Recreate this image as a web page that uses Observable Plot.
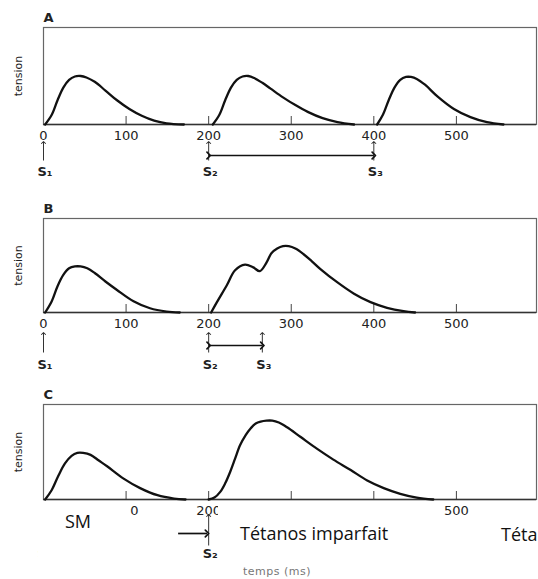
<!DOCTYPE html>
<html><head><meta charset="utf-8">
<script src="https://cdn.jsdelivr.net/npm/d3@7"></script>
<script src="https://cdn.jsdelivr.net/npm/@observablehq/plot@0.6"></script>
<style>
body{margin:0;background:#fff;}
#wrap{position:relative;width:538px;height:579px;overflow:hidden;background:#fff;}
#wrap > svg{position:absolute;left:0;}
</style></head><body><div id="wrap"></div>
<script>
// x-axis ticks (ms)
const ticks = [0, 100, 200, 300, 400, 500];
const tickLabels = ["0", "100", "200", "300", "400", "500"];
const panelLabels = ["A", "B", "C"];
const yLabel = "tension";
const xLabel = "temps (ms)";
const boxLabels = ["SM", "Tétanos imparfait", "Téta"];

// Panel A: three separate twitches
const a1Time = [2, 10, 17, 24, 31, 38, 45, 52, 62, 75, 89, 104, 119, 134, 149, 170];
const a1Tension = [0, 0.10, 0.25, 0.38, 0.46, 0.495, 0.50, 0.485, 0.44, 0.35, 0.25, 0.16, 0.09, 0.04, 0.012, 0];
const a2Time = [205, 213, 220, 227, 234, 241, 248, 255, 265, 275, 290, 305, 320, 338, 356, 376];
const a2Tension = [0, 0.10, 0.25, 0.38, 0.46, 0.495, 0.50, 0.48, 0.43, 0.37, 0.28, 0.20, 0.13, 0.065, 0.025, 0];
const a3Time = [404, 411, 418, 425, 432, 439, 445, 452, 462, 477, 497, 517, 537, 557];
const a3Tension = [0, 0.10, 0.25, 0.38, 0.46, 0.49, 0.49, 0.47, 0.41, 0.29, 0.16, 0.076, 0.024, 0];
const aStim = [0, 200, 400];
const aStimLabels = ["S₁", "S₂", "S₃"];

// Panel B: twitch then summation
const b1Time = [2, 10, 17, 24, 31, 38, 45, 53, 62, 75, 89, 109, 129, 149, 165];
const b1Tension = [0, 0.12, 0.28, 0.40, 0.47, 0.49, 0.49, 0.47, 0.42, 0.33, 0.24, 0.12, 0.045, 0.01, 0];
const b2Time = [203, 210, 222, 232, 244, 254, 262, 270, 276, 283, 290, 297, 305, 315, 325, 335, 356, 376, 396, 416, 436, 450];
const b2Tension = [0, 0.11, 0.29, 0.45, 0.51, 0.48, 0.44, 0.53, 0.63, 0.68, 0.705, 0.705, 0.68, 0.62, 0.545, 0.465, 0.32, 0.20, 0.11, 0.05, 0.014, 0];
const bStim = [0, 200, 265];
const bStimLabels = ["S₁", "S₂", "S₃"];

// Panel C: twitch then fused response
const c1Time = [2, 10, 18, 26, 34, 41, 48, 57, 67, 77, 97, 117, 138, 158, 172];
const c1Tension = [0, 0.10, 0.25, 0.38, 0.46, 0.49, 0.49, 0.47, 0.41, 0.35, 0.22, 0.12, 0.045, 0.01, 0];
const c2Time = [200, 207, 214, 220, 226, 232, 238, 245, 251, 257, 263, 270, 277, 285, 295, 311, 331, 351, 372, 392, 412, 432, 452, 472];
const c2Tension = [0, 0.02, 0.08, 0.17, 0.29, 0.43, 0.57, 0.68, 0.75, 0.80, 0.82, 0.83, 0.83, 0.81, 0.76, 0.66, 0.535, 0.42, 0.31, 0.20, 0.12, 0.06, 0.02, 0];
const cStim = [0, 200];
const cStimLabels = ["S₁", "S₂"];
const cArrowFrom = 163;
const cArrowTo = 198;

const zip = (t, v) => t.map((d, i) => ({t: d, v: v[i]}));

function panel(o) {
  const u = px => -px / o.fh;
  const marks = [
    Plot.frame({stroke: "#666", strokeWidth: 1.2}),
    Plot.ruleX(ticks.slice(1), {y1: () => 0, y2: () => 8 / o.fh, stroke: "#444", strokeWidth: 1}),
    Plot.axisX(ticks, {tickSize: 0, tickPadding: 6, fontSize: 13, fill: "#222", label: null,
      tickFormat: d => tickLabels[ticks.indexOf(d)]}),
    Plot.ruleY([0], {stroke: "#333", strokeWidth: 1.5}),
    ...o.segs.map(([t, v]) => Plot.line(zip(t, v), {x: "t", y: "v", curve: "catmull-rom", stroke: "#111", strokeWidth: 2.3})),
    Plot.link(o.stims, {x1: d => d, x2: d => d, y1: () => u(o.arrowBot), y2: () => u(o.arrowTop),
      markerEnd: "arrow", stroke: "#333", strokeWidth: 1}),
    Plot.text(o.stims, {x: d => d, y: () => u(o.labelOff), text: (d, i) => o.stimLabels[i],
      textAnchor: "start", dx: -6, fontSize: 13, fontWeight: "bold", fill: "#222"}),
    Plot.text([o.label], {frameAnchor: "top-left", dy: -15, text: d => d, fontSize: 13, fontWeight: "bold", lineAnchor: "top", fill: "#222"}),
    Plot.text([yLabel], {frameAnchor: "left", dx: -25, rotate: -90, text: d => d, fontSize: 11,
      textAnchor: "middle", lineAnchor: "middle", fill: "#222"})
  ];
  if (o.link) marks.push(Plot.link([o.link], {x1: d => d[0], x2: d => d[1], y1: () => u(o.linkOff), y2: () => u(o.linkOff),
    markerStart: o.both ? "arrow" : undefined, markerEnd: "arrow", stroke: "#111", strokeWidth: 1.7}));
  const svg = Plot.plot({
    width: 538, height: o.height,
    marginTop: o.mt, marginBottom: o.height - o.mt - o.fh, marginLeft: 43, marginRight: 2,
    style: {fontFamily: "DejaVu Sans", background: "transparent", overflow: "visible"},
    x: {domain: [0, 597], axis: null},
    y: {domain: [0, 1], axis: null},
    marks
  });
  svg.style.top = o.top + "px";
  return svg;
}

const wrap = document.getElementById("wrap");
wrap.appendChild(panel({top: 0, mt: 27, fh: 97, height: 190, label: panelLabels[0],
  segs: [[a1Time, a1Tension], [a2Time, a2Tension], [a3Time, a3Tension]],
  stims: aStim, stimLabels: aStimLabels, arrowTop: 18, arrowBot: 36, labelOff: 47,
  link: [aStim[1], aStim[2]], linkOff: 31, both: true}));
wrap.appendChild(panel({top: 191, mt: 27, fh: 94, height: 190, label: panelLabels[1],
  segs: [[b1Time, b1Tension], [b2Time, b2Tension]],
  stims: bStim, stimLabels: bStimLabels, arrowTop: 21, arrowBot: 40, labelOff: 52,
  link: [bStim[1], bStim[2]], linkOff: 33, both: true}));
wrap.appendChild(panel({top: 377, mt: 27, fh: 95, height: 202, label: panelLabels[2],
  segs: [[c1Time, c1Tension], [c2Time, c2Tension]],
  stims: cStim, stimLabels: cStimLabels, arrowTop: 16, arrowBot: 46, labelOff: 54,
  link: [cArrowFrom, cArrowTo], linkOff: 34, both: false}));

// overlay: white label boxes and axis title
const ns = "http://www.w3.org/2000/svg";
const ov = document.createElementNS(ns, "svg");
ov.setAttribute("width", 538); ov.setAttribute("height", 579);
ov.style.top = "0px";
ov.innerHTML = `
  <rect x="38" y="505" width="92" height="57" fill="#fff"/>
  <rect x="218" y="506" width="212" height="52" fill="#fff"/>
  <rect x="495" y="515" width="60" height="45" fill="#fff"/>
  <text x="65" y="528" font-family="Open Sans" font-size="18" fill="#111">${boxLabels[0]}</text>
  <text x="240" y="540" font-family="Open Sans" font-size="18" fill="#111">${boxLabels[1]}</text>
  <text x="501" y="541" font-family="Open Sans" font-size="18" fill="#111">${boxLabels[2]}</text>
  <text x="243" y="575" font-family="DejaVu Sans" font-size="11" fill="#777" letter-spacing="0.5">${xLabel}</text>
`;
wrap.appendChild(ov);
</script>
</body></html>
